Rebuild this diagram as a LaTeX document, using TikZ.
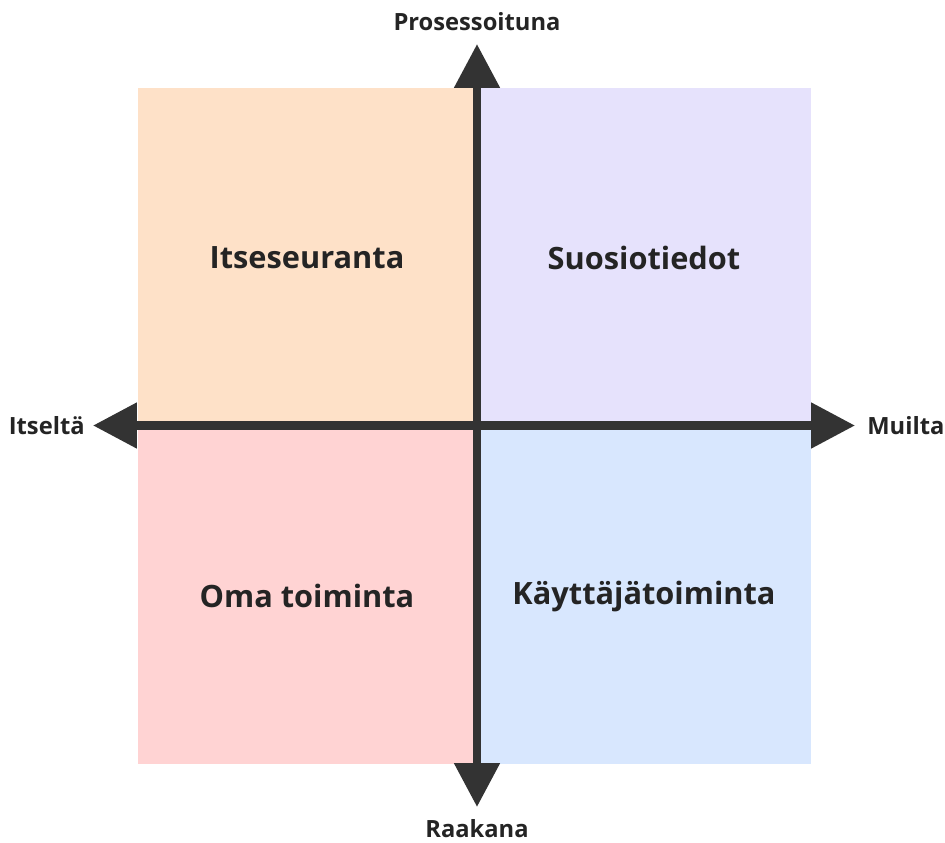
\documentclass[tikz,border=0pt]{standalone}
\usepackage{fontspec}
\setmainfont{Open Sans}
\usepackage{tikz}
\usetikzlibrary{arrows.meta}

\definecolor{axisgray}{HTML}{333333}
\definecolor{peach}{HTML}{FEE1C8}
\definecolor{lavender}{HTML}{E6E2FC}
\definecolor{rose}{HTML}{FFD3D3}
\definecolor{skyblue}{HTML}{D8E7FE}

\tikzset{
  quadlabel/.style={font=\bfseries\fontsize{17.5}{20}\selectfont, text=axisgray!70!black},
  axislabel/.style={font=\bfseries\fontsize{13.5}{16}\selectfont, text=axisgray!70!black, inner sep=0pt},
  axis/.style={draw=axisgray, line width=4.8pt,
    arrows={Triangle[length=0.88cm,width=0.88cm]-Triangle[length=0.88cm,width=0.88cm]}}
}

\begin{document}
\begin{tikzpicture}[x=0.02cm,y=-0.02cm]
    \useasboundingbox (0,0) rectangle (945,842);
    % quadrants
    \fill[peach] (138,88) rectangle (477,425.5);
    \fill[lavender] (477,88) rectangle (811,425.5);
    \fill[rose] (138,425.5) rectangle (477,764);
    \fill[skyblue] (477,425.5) rectangle (811,764);
    \node[quadlabel] (tl) at (307,258) {Itseseuranta};
    \node[quadlabel] (tr) at (644,258) {Suosiotiedot};
    \node[quadlabel] (bl) at (307,596) {Oma toiminta};
    \node[quadlabel] (br) at (644,596) {Käyttäjätoiminta};
    % axes
    \coordinate (west) at (93,425.5);
    \coordinate (east) at (855,425.5);
    \coordinate (north) at (477,44);
    \coordinate (south) at (477,807);
    \draw[axis] (west) -- (east);
    \draw[axis] (south) -- (north);
    \node[axislabel, anchor=east] (left) at ([xshift=-0.16cm]west) {Itseltä};
    \node[axislabel, anchor=west] (right) at ([xshift=0.24cm]east) {Muilta};
    \node[axislabel] (up) at (477,22) {Prosessoituna};
    \node[axislabel] (down) at (477,829) {Raakana};
\end{tikzpicture}
\end{document}
